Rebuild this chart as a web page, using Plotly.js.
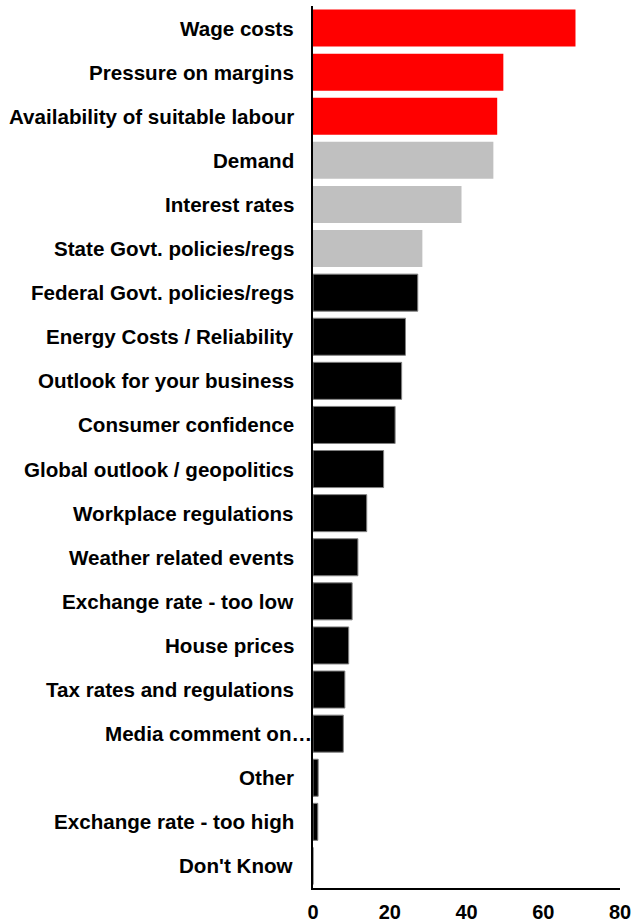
<!DOCTYPE html>
<html>
<head>
<meta charset="utf-8">
<script src="https://cdn.plot.ly/plotly-3.0.1.min.js"></script>
<style>
html,body{margin:0;padding:0;background:#fff;}
#chart{width:633px;height:922px;}
</style>
</head>
<body>
<div id="chart"></div>
<script>
const categories = [
  "Wage costs",
  "Pressure on margins",
  "Availability of suitable labour",
  "Demand",
  "Interest rates",
  "State Govt. policies/regs",
  "Federal Govt. policies/regs",
  "Energy Costs / Reliability",
  "Outlook for your business",
  "Consumer confidence",
  "Global outlook / geopolitics",
  "Workplace regulations",
  "Weather related events",
  "Exchange rate - too low",
  "House prices",
  "Tax rates and regulations",
  "Media comment on…",
  "Other",
  "Exchange rate - too high",
  "Don't Know"
];
const values = [68.4, 49.6, 48.0, 47.0, 38.7, 28.5, 27.3, 24.1, 23.1, 21.4, 18.4, 14.0, 11.7, 10.2, 9.3, 8.3, 7.9, 1.35, 1.25, 0];
const groups = ["top","top","top","mid","mid","mid","low","low","low","low","low","low","low","low","low","low","low","low","low","low"];
const groupColors = {top: "#FF0000", mid: "#C0C0C0", low: "#000000"};
const xTicks = [0, 20, 40, 60, 80];

const colors = groups.map(g => groupColors[g]);
const lineColors = groups.map(g => g === "low" ? "#808080" : "rgba(0,0,0,0)");

const font = {family: "Liberation Sans, Arial, sans-serif", size: 20.6, color: "#000", weight: "bold"};

const annotations = categories.map(c => ({
  xref: "paper", yref: "y", x: 0, y: c,
  text: c, showarrow: false,
  xanchor: "right", yanchor: "middle",
  xshift: c.endsWith("…") ? 1 : -17,
  font: font
}));

const data = [{
  type: "bar",
  orientation: "h",
  y: categories,
  x: values,
  marker: {color: colors, line: {color: lineColors, width: 1}},
  hoverinfo: "x+y"
}];

const layout = {
  width: 633, height: 922,
  margin: {l: 313, r: 13, t: 6, b: 34},
  paper_bgcolor: "#fff", plot_bgcolor: "#fff",
  showlegend: false,
  bargap: 0.16,
  font: font,
  xaxis: {
    range: [0, 80], tickvals: xTicks, ticktext: xTicks.map(String),
    showgrid: false, zeroline: false,
    showline: true, linecolor: "#000", linewidth: 2,
    ticks: "", tickfont: {family: font.family, size: 20, color: "#000", weight: "bold"},
    ticklabelstandoff: 5
  },
  yaxis: {
    autorange: "reversed", showticklabels: false,
    showgrid: false, zeroline: false,
    showline: true, linecolor: "#000", linewidth: 2, ticks: ""
  },
  annotations: annotations
};

Plotly.newPlot("chart", data, layout, {displayModeBar: false, staticPlot: true});
</script>
</body>
</html>
